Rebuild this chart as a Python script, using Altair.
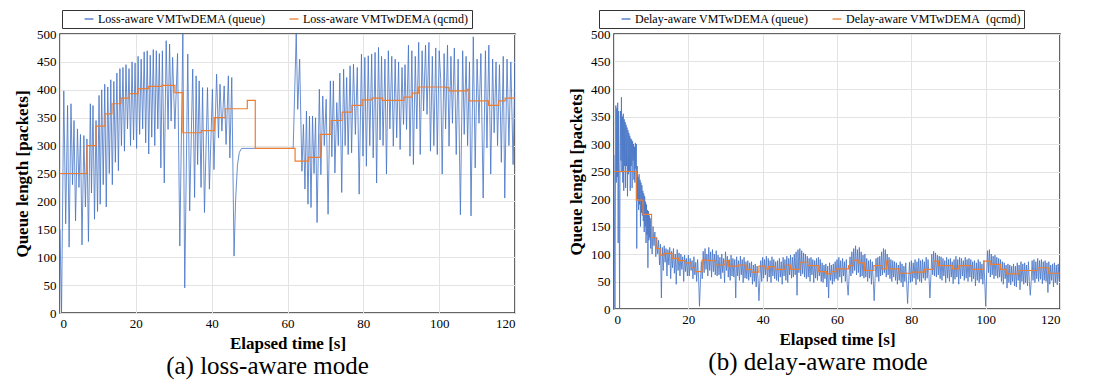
import altair as alt
import pandas as pd

FONT = "Liberation Serif, Times New Roman, DejaVu Serif, serif"
BLUE = "#4472C4"
ORANGE = "#ED7D31"

x_ticks = [0, 20, 40, 60, 80, 100, 120]
y_ticks = [0, 50, 100, 150, 200, 250, 300, 350, 400, 450, 500]

loss_names = ["Loss-aware VMTwDEMA (queue)", "Loss-aware VMTwDEMA (qcmd)"]
delay_names = ["Delay-aware VMTwDEMA (queue)", "Delay-aware VMTwDEMA\u00a0 (qcmd)"]
captions = ["(a) loss-aware mode", "(b) delay-aware mode"]

# ---- (a) loss-aware: queue samples (time [s], packets) ----
loss_q_t = [
    0.0, 0.4, 1.0, 1.5, 2.0, 2.4, 2.9, 3.3, 3.7, 4.1,
    4.6, 5.0, 5.4, 5.8, 6.3, 6.7, 7.1, 7.5, 8.0, 8.3,
    8.7, 9.1, 9.5, 9.9, 10.3, 10.6, 11.0, 11.4, 11.8, 12.2,
    12.6, 13.0, 13.4, 13.8, 14.2, 14.6, 15.0, 15.4, 15.8, 16.2,
    16.6, 17.0, 17.4, 17.8, 18.2, 18.6, 19.0, 19.4, 19.8, 20.2,
    20.6, 21.0, 21.4, 21.8, 22.2, 22.6, 23.0, 23.4, 23.8, 24.2,
    24.6, 25.0, 25.4, 25.8, 26.2, 26.6, 27.0, 27.5, 28.0, 28.5,
    28.9, 29.3, 29.7, 30.3, 31.0, 31.6, 32.4, 32.9, 33.7, 34.2,
    35.0, 35.5, 35.9, 36.3, 36.7, 37.2, 37.6, 38.1, 38.9, 39.4,
    40.2, 40.6, 41.3, 41.8, 42.2, 42.7, 43.3, 43.8, 44.4, 44.8,
    45.3, 45.9, 46.3, 46.8, 47.3, 47.9, 61.5, 62.3, 62.7, 63.2,
    63.8, 64.2, 64.6, 65.0, 65.4, 65.8, 66.2, 66.6, 67.0, 67.4,
    67.8, 68.4, 68.8, 69.3, 69.7, 70.2, 70.7, 71.3, 71.7, 72.1,
    72.5, 73.0, 73.4, 73.8, 74.3, 74.8, 75.2, 75.6, 76.0, 76.5,
    76.9, 77.4, 77.9, 78.4, 78.9, 79.5, 79.9, 80.4, 80.8, 81.3,
    81.7, 82.2, 82.6, 83.1, 83.5, 84.0, 84.4, 84.8, 85.2, 85.7,
    86.1, 86.6, 87.0, 87.5, 87.9, 88.4, 88.8, 89.3, 89.7, 90.2,
    90.6, 91.0, 91.4, 91.9, 92.3, 92.8, 93.2, 93.7, 94.1, 94.6,
    95.0, 95.5, 95.9, 96.4, 96.8, 97.3, 97.7, 98.2, 98.6, 99.1,
    99.5, 100.0, 100.4, 100.8, 101.3, 101.7, 102.2, 102.6, 103.1, 103.5,
    104.0, 104.5, 105.0, 105.6, 106.2, 106.6, 107.1, 107.5, 108.0, 108.4,
    109.0, 109.5, 110.0, 110.5, 111.0, 111.6, 112.2, 112.6, 113.1, 113.6,
    114.1, 114.5, 115.0, 115.4, 115.9, 116.4, 116.9, 117.3, 117.9, 118.4,
    118.9, 119.5, 120.0,
]
loss_q_v = [
    150, 0, 398, 160, 372, 118, 375, 230, 345, 165,
    330, 225, 320, 122, 318, 190, 312, 128, 375, 215,
    372, 168, 345, 182, 390, 195, 400, 230, 410, 190,
    405, 250, 418, 230, 415, 270, 430, 255, 438, 300,
    440, 290, 445, 330, 438, 300, 450, 310, 448, 295,
    460, 320, 455, 330, 468, 305, 470, 285, 462, 315,
    472, 300, 470, 330, 465, 260, 470, 233, 488, 329,
    482, 344, 458, 330, 465, 120, 500, 45, 464, 183,
    437, 207, 425, 266, 416, 225, 404, 180, 404, 222,
    401, 257, 428, 314, 410, 326, 407, 302, 425, 278,
    422, 102, 200, 265, 288, 295, 295, 500, 365, 455,
    254, 338, 222, 362, 195, 353, 189, 353, 250, 350,
    162, 401, 248, 389, 300, 383, 177, 416, 280, 416,
    251, 377, 300, 430, 216, 437, 300, 422, 284, 443,
    287, 446, 320, 440, 213, 464, 281, 458, 263, 461,
    300, 464, 278, 467, 233, 476, 310, 460, 300, 455,
    249, 470, 330, 460, 299, 455, 314, 450, 293, 440,
    338, 445, 329, 480, 281, 470, 266, 460, 330, 485,
    284, 470, 362, 480, 356, 485, 290, 460, 300, 475,
    284, 470, 420, 249, 465, 330, 480, 299, 460, 340,
    475, 284, 455, 176, 470, 320, 460, 300, 450, 174,
    495, 260, 455, 340, 465, 206, 470, 296, 480, 249,
    455, 323, 450, 300, 445, 270, 460, 206, 455, 300,
    450, 266, 455,
]

# ---- (a) loss-aware: qcmd steps ----
loss_c_t = [0, 7.1, 9.5, 11.9, 13.7, 16.1, 18.3, 20.6, 23.4, 26.9,
            30.3, 32.4, 37.3, 40.7, 43.6, 49.4, 51.5, 62.0, 65.6, 68.6,
            71.5, 74.4, 77.0, 79.7, 82.3, 85.0, 90.7, 92.9, 94.6, 101.7,
            102.6, 107.4, 107.9, 113.0, 115.7, 117.4, 120]
loss_c_v = [250, 300, 335, 357, 375, 385, 393, 402, 406, 408,
            395, 323, 327, 350, 366, 381, 295, 272, 279, 320,
            345, 360, 372, 382, 385, 381, 387, 394, 405, 404,
            398, 401, 380, 372, 380, 385, 385]

# ---- (b) delay-aware: queue samples, 0-10 s every 0.125 s ----
delay_q_start = [
    280, 150, 0, 200, 370, 230, 365, 240,
    375, 120, 360, 210, 0, 250, 360, 270,
    385, 250, 350, 230, 355, 215, 345, 260,
    340, 220, 335, 260, 330, 205, 325, 245,
    320, 250, 315, 215, 310, 260, 308, 220,
    305, 270, 300, 235, 295, 230, 302, 255,
    300, 110, 260, 200, 240, 180, 245, 190,
    235, 150, 230, 175, 225, 170, 215, 160,
    210, 140, 205, 150, 195, 120, 190, 135,
    180, 75, 178, 125, 170, 130, 165, 110,
]
# ---- (b) delay-aware: queue samples, 10-20 s every 0.25 s ----
delay_q_early = [
    160, 100, 150, 115, 140, 95, 130, 100, 125, 80,
    118, 20, 112, 70, 115, 85, 110, 60, 108, 80,
    112, 55, 105, 75, 110, 65, 100, 45, 108, 70,
    102, 60, 100, 72, 95, 50, 98, 68, 92, 60,
]
# ---- (b) delay-aware: queue samples, 20-120 s every 0.25 s ----
delay_q_late = [
    98, 60, 92, 70, 88, 55, 95, 62, 85, 50, 90, 58, 5, 48, 86, 55,
    105, 66, 110, 72, 100, 60, 112, 70, 104, 58, 108, 68, 100, 62, 106, 60,
    98, 62, 94, 55, 100, 66, 92, 48, 104, 70, 96, 58, 90, 52, 98, 60,
    92, 58, 90, 20, 95, 60, 88, 52, 96, 62, 90, 48, 94, 56, 86, 55,
    88, 52, 84, 58, 86, 45, 80, 50, 82, 40, 78, 55, 15, 52, 88, 50,
    94, 56, 90, 62, 96, 50, 92, 58, 88, 48, 95, 60, 90, 55, 86, 52,
    88, 50, 92, 58, 86, 45, 94, 60, 90, 52, 96, 48, 92, 62, 98, 56,
    94, 58, 100, 62, 104, 25, 108, 66, 110, 60, 106, 64, 102, 58, 100, 55,
    96, 58, 92, 50, 94, 62, 90, 48, 88, 56, 92, 52, 94, 60, 90, 50,
    84, 48, 80, 55, 82, 40, 78, 20, 84, 52, 80, 45, 82, 50, 86, 55,
    90, 52, 94, 58, 88, 48, 92, 60, 86, 50, 90, 45, 25, 58, 95, 60,
    104, 65, 110, 70, 115, 62, 108, 66, 112, 58, 104, 60, 98, 56, 100, 58,
    92, 50, 88, 56, 90, 45, 86, 52, 15, 55, 92, 58, 94, 50, 96, 60,
    104, 62, 110, 66, 108, 58, 100, 62, 94, 55, 90, 50, 88, 58, 86, 52,
    84, 45, 80, 52, 86, 48, 82, 40, 78, 50, 84, 46, 10, 52, 85, 48,
    88, 50, 84, 56, 90, 44, 86, 54, 92, 50, 88, 48, 90, 56, 86, 52,
    94, 56, 90, 60, 20, 58, 100, 62, 105, 60, 102, 58, 98, 62, 96, 55,
    95, 52, 92, 60, 88, 48, 94, 56, 90, 50, 92, 58, 86, 46, 90, 54,
    96, 58, 90, 45, 94, 55, 92, 60, 88, 52, 94, 56, 90, 50, 92, 58,
    90, 50, 86, 55, 88, 42, 84, 52, 90, 48, 86, 54, 82, 45, 88, 50,
    5, 62, 106, 66, 108, 58, 100, 62, 96, 55, 98, 60, 94, 56, 92, 58,
    90, 50, 86, 45, 84, 55, 80, 38, 82, 48, 80, 44, 78, 50, 82, 42,
    78, 40, 84, 52, 80, 35, 86, 50, 82, 45, 84, 48, 80, 42, 86, 50,
    25, 50, 88, 52, 90, 48, 86, 55, 92, 50, 88, 54, 90, 46, 86, 52,
    88, 50, 84, 30, 86, 45, 80, 52, 82, 40, 84, 48, 80, 44, 82, 50,
]
START_STEP = 0.125
EARLY_START, EARLY_STEP = 10.0, 0.25
LATE_START, LATE_STEP = 20.0, 0.25

# ---- (b) delay-aware: qcmd steps ----
delay_c_t = [0, 6.0, 7.8, 10.1, 11.3, 12.4, 13.4, 15.6, 17.4, 19.2,
             20.8, 21.9, 23.7, 25.5, 27.3, 29.9, 30.8, 33.5, 35.5, 37.0,
             39.0, 40.7, 41.6, 43.4, 46.1, 47.5, 50.0, 52.1, 55.1, 57.2,
             58.5, 59.7, 63.1, 64.4, 65.7, 67.4, 69.9, 72.0, 73.3, 74.1,
             76.7, 80.1, 83.5, 86.0, 87.3, 91.1, 92.8, 96.2, 99.5, 101.2,
             104.0, 105.5, 109.0, 114.0, 117.0, 120]
delay_c_v = [250, 198, 172, 130, 110, 98, 101, 92, 88, 84,
             75, 68, 89, 88, 80, 88, 78, 80, 72, 67,
             78, 73, 77, 72, 80, 72, 85, 79, 68, 64,
             68, 73, 79, 89, 84, 70, 79, 73, 87, 73,
             65, 67, 72, 87, 79, 73, 79, 72, 87, 81,
             72, 64, 70, 75, 65, 65]

assert len(loss_q_t) == len(loss_q_v)
assert len(loss_c_t) == len(loss_c_v)
assert len(delay_c_t) == len(delay_c_v)

delay_q_t = ([i * START_STEP for i in range(len(delay_q_start))]
             + [EARLY_START + i * EARLY_STEP for i in range(len(delay_q_early))]
             + [LATE_START + i * LATE_STEP for i in range(len(delay_q_late))])
delay_q_v = delay_q_start + delay_q_early + delay_q_late


def panel(qt, qv, ct, cv, names, caption, w, h, lx, ly, cap_dx):
    q = pd.DataFrame({"t": qt, "v": qv, "series": names[0]})
    c = pd.DataFrame({"t": ct, "v": cv, "series": names[1]})
    color = alt.Color(
        "series:N",
        scale=alt.Scale(domain=names, range=[BLUE, ORANGE]),
        legend=alt.Legend(
            title=None, orient="none", legendX=lx, legendY=ly,
            direction="horizontal", gridAlign="each", symbolType="stroke",
            symbolSize=80, symbolStrokeWidth=1.3, symbolOffset=18,
            labelOffset=3, columnPadding=4, padding=3,
            strokeColor="#333333", fillColor="white",
            labelFont=FONT, labelFontSize=12, labelColor="black", labelLimit=400,
        ),
    )
    x = alt.X("t:Q", scale=alt.Scale(domain=[0, 120], nice=False, zero=False),
              axis=alt.Axis(values=x_ticks, title="Elapsed time [s]"))
    y = alt.Y("v:Q", scale=alt.Scale(domain=[0, 500], nice=False),
              axis=alt.Axis(values=y_ticks, title="Queue length [packets]"))
    blue = alt.Chart(q).mark_line(strokeWidth=0.8, clip=True).encode(x=x, y=y, color=color)
    orange = alt.Chart(c).mark_line(interpolate="step-after", strokeWidth=1.2,
                                    clip=True).encode(x=x, y=y, color=color)
    return alt.layer(blue, orange).properties(
        width=w, height=h,
        title=alt.TitleParams(caption, orient="bottom", anchor="middle", font=FONT,
                              fontSize=25, fontWeight="normal", color="black",
                              offset=3, dx=cap_dx),
    )


left = panel(loss_q_t, loss_q_v, loss_c_t, loss_c_v, loss_names, captions[0],
             455, 279, 2, -24, -20)
right = panel(delay_q_t, delay_q_v, delay_c_t, delay_c_v, delay_names, captions[1],
              446, 275, -15, -24, -19)

chart = (
    alt.hconcat(left, right, spacing=50)
    .resolve_scale(color="independent")
    .resolve_legend(color="independent")
    .properties(padding={"left": 4, "top": 0, "right": 0, "bottom": 0})
    .configure_view(stroke="#333333", strokeWidth=1.5)
    .configure_axis(
        labelFont=FONT, labelFontSize=13, labelColor="black", labelPadding=4,
        titleFont=FONT, titleFontSize=17, titleFontWeight="bold", titleColor="black",
        titlePadding=5, ticks=False, domain=False, grid=True, gridColor="#e3e3e3",
    )
)

chart.save("out.html", embed_options={"renderer": "svg", "actions": False})
